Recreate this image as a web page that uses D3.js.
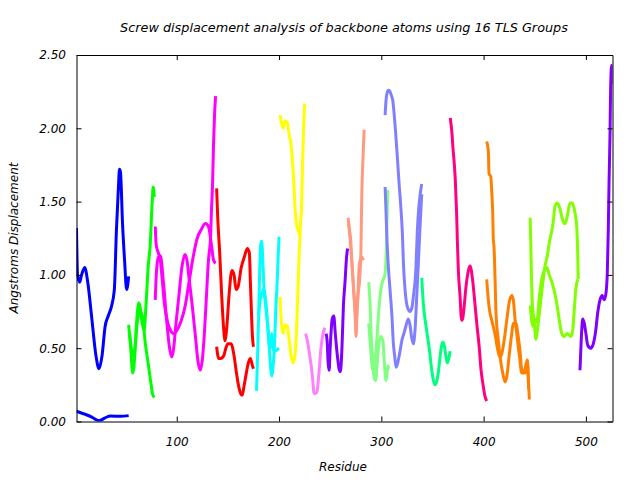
<!DOCTYPE html>
<html><head><meta charset="utf-8">
<script src="https://cdn.jsdelivr.net/npm/d3@7"></script>
<style>
body{margin:0;background:#fff}
svg text{font-family:"DejaVu Sans",sans-serif;font-style:italic;font-size:12px;fill:#000}
</style>
</head><body>
<svg id="chart" width="640" height="480"></svg>
<script>
// ---- data: screw displacement (Angstroms) per residue, 16 TLS groups ----
const title = "Screw displacement analysis of backbone atoms using 16 TLS Groups";
const xLabel = "Residue";
const yLabel = "Angstroms Displacement";
const xTicks = [100, 200, 300, 400, 500];
const yTicks = [0, 0.5, 1.0, 1.5, 2.0, 2.5];
const xDomain = [2, 526];
const yDomain = [0, 2.5];
const groupColors = ["#0000ff","#00ff00","#ff00ff","#ff0000","#00ffff","#ffff00","#ff80ff","#8000ff",
                     "#ff9980","#80ff80","#8080ff","#00ff80","#ff0080","#ff8000","#80ff00","#8000ff"];

const g01a = [[2,1.32],[3,1.0],[5,0.95],[7,1.0],[10,1.05],[13,0.95],[17,0.7],[21,0.45],[24,0.36],[27,0.45],[30,0.65],[33,0.72],[36,0.78],[39,0.9],[41,1.3],[43,1.6],[44,1.72],[45,1.7],[47,1.35],[49,1.1],[51,0.9],[53,0.99]];
const g01b = [[2,0.07],[10,0.05],[17,0.03],[24,0.005],[30,0.025],[35,0.037],[45,0.035],[53,0.04]];
const g02a = [[53,0.66],[55,0.5],[57,0.33],[59,0.45],[61,0.7],[63,0.81],[65,0.75],[67,0.7],[69,0.55],[72,0.4],[75,0.25],[77,0.17],[78,0.18]];
const g02b = [[54,0.6],[57,0.45],[59,0.5],[61,0.65],[63,0.75],[65,0.72],[68,0.62],[70,0.8],[72,1.05],[74,1.2],[76,1.5],[77,1.6],[78,1.53]];
const g03a = [[79,0.83],[80,1.0],[82,1.12],[84,1.13],[87,0.95],[90,0.7],[93,0.5],[95,0.44],[97,0.5],[99,0.65],[102,0.85],[105,1.05],[108,1.14],[110,1.1],[112,0.98],[115,0.8],[118,0.6],[121,0.4],[123,0.35],[125,0.42],[127,0.6],[129,0.85],[131,1.1],[133,1.25],[134,1.45],[135,1.62],[136,1.9],[137,2.1],[138,2.22]];
const g03b = [[79,1.33],[80,1.2],[82,1.15],[84,1.1],[86,0.95],[88,0.8],[91,0.68],[94,0.62],[97,0.6],[100,0.62],[104,0.68],[108,0.78],[112,0.95],[116,1.12],[120,1.25],[124,1.31],[128,1.35],[131,1.33],[134,1.2],[136,1.1],[138,1.08]];
const g04a = [[139,1.59],[140,1.4],[142,1.15],[144,0.85],[146,0.62],[147,0.55],[149,0.65],[151,0.85],[154,1.03],[156,1.0],[158,0.9],[160,0.92],[163,1.05],[166,1.12],[169,1.18],[171,1.15],[172,0.95],[173,0.75],[174,0.58],[175,0.51]];
const g04b = [[139,0.51],[141,0.43],[143,0.43],[146,0.45],[148,0.5],[150,0.53],[153,0.53],[156,0.45],[158,0.35],[160,0.26],[162,0.2],[164,0.18],[166,0.25],[168,0.33],[170,0.4],[172,0.43],[174,0.38],[175,0.36]];
const g05a = [[178,0.21],[179,0.45],[180,0.7],[181,1.0],[182,1.2],[183,1.23],[184,1.13],[185,0.95],[186,0.85],[188,0.72],[190,0.55],[192,0.35],[193,0.31],[194,0.36],[196,0.6],[197,0.8],[198,0.92],[199,1.1],[200,1.26]];
const g05b = [[180,0.72],[181,0.8],[183,0.87],[185,0.9],[187,0.82],[189,0.65],[191,0.5],[193,0.6],[194,0.5],[196,0.48],[198,0.49],[200,0.5]];
const g06a = [[201,0.85],[202,0.7],[203,0.63],[204,0.6],[206,0.66],[208,0.65],[210,0.55],[212,0.44],[214,0.4],[216,0.48],[217,0.6],[218,0.8],[219,1.0],[220,1.2],[221,1.35],[222,1.46],[223,1.76],[224,2.0],[225,2.17]];
const g06b = [[201,2.09],[203,2.02],[204,2.0],[206,2.05],[208,2.04],[210,1.95],[211.5,1.9],[213.5,1.74],[215,1.55],[216,1.42],[217.5,1.33],[219.5,1.29],[220.6,1.27]];
const g07a = [[226,0.6],[228,0.54],[230,0.45],[232,0.35],[233,0.28],[234,0.2],[235,0.19],[237,0.2],[239,0.33],[241,0.5],[243,0.6],[245,0.64]];
const g08a = [[246,0.6],[247,0.55],[248,0.4],[249,0.35],[250,0.5],[252,0.7],[253.5,0.72],[255,0.6],[257,0.45],[259,0.35],[260,0.34],[261.5,0.5],[263,0.8],[264.5,0.95],[266,1.12],[267,1.18]];
const g09a = [[267.5,1.39],[269,1.3],[270,1.24],[271,1.12],[272.7,0.92],[274.4,0.72],[275.3,0.58],[276.6,0.82],[278.6,0.95],[280,1.15],[281,1.58],[282,1.78],[283.2,1.99]];
const g09b = [[268,1.35],[269.5,1.24],[271,1.1],[272.5,0.95],[274,0.8],[275.5,0.7],[276.7,0.8],[278.6,1.08],[280.9,1.12],[282.5,1.1]];
const g10a = [[287.7,0.95],[289,0.8],[290,0.6],[291.5,0.42],[293,0.3],[294.5,0.28],[296,0.4],[298,0.55],[299.5,0.58],[301.5,0.55],[303,0.4],[304.5,0.28],[305.5,0.32],[306.5,0.38],[307,0.36]];
const g10b = [[287.7,0.67],[289.5,0.5],[291,0.38],[292.5,0.34],[294,0.42],[296,0.6],[298,0.8],[300,0.92],[302,0.97],[303.5,1.0],[305,1.2],[305.8,1.45],[306.3,1.58]];
const g11a = [[303.7,2.09],[304.6,2.19],[306,2.25],[307,2.26],[308.5,2.25],[310,2.22],[311.2,2.19],[312.5,2.1],[314,1.97],[315.7,1.8],[317.4,1.62],[319,1.47],[320.6,1.28],[321.6,1.08],[323.2,0.9],[325.5,0.78],[328,0.75],[330,0.78],[331.3,0.85],[333.7,1.03],[335.2,1.3],[336.5,1.45],[338,1.55],[339.5,1.62]];
const g11b = [[303.7,1.6],[304.5,1.45],[305.3,1.28],[306.5,1.1],[308.5,0.9],[310.2,0.74],[311.8,0.53],[313,0.45],[314.4,0.37],[316,0.4],[318.3,0.48],[320,0.55],[322,0.6],[324,0.65],[326.4,0.7],[328,0.66],[329.5,0.58],[331.3,0.53],[333,0.63],[334.6,0.85],[336.2,1.08],[338,1.35],[339.5,1.55]];
const g12a = [[339.5,0.98],[341,0.81],[343.7,0.65],[347,0.49],[349.3,0.35],[351,0.28],[352.5,0.25],[354,0.27],[356,0.35],[357.4,0.44],[359,0.52],[360,0.54],[361.5,0.52],[363,0.45],[364.5,0.4],[366,0.43],[367.2,0.48]];
const g13a = [[367.4,2.07],[369,1.97],[370,1.87],[371.3,1.76],[372.3,1.65],[373.1,1.51],[373.7,1.4],[374.3,1.24],[375.3,1.03],[377,0.85],[378,0.72],[378.6,0.69],[379.5,0.7],[380.9,0.78],[382.8,0.92],[385.1,1.03],[386.7,1.06],[389,0.98],[390.9,0.85],[393.3,0.67],[395.8,0.5],[397.5,0.35],[399.7,0.24],[401.4,0.17],[403,0.14]];
const g14a = [[403,1.91],[404.6,1.85],[405.3,1.69],[407,1.67],[408,1.56],[408.9,1.42],[409.5,1.24],[410.2,1.19],[411.2,0.97],[412.1,0.74],[414.4,0.55],[416.1,0.44],[418.7,0.33],[421,0.27],[422.5,0.3],[425,0.45],[427.5,0.6],[429,0.67],[431.7,0.67],[433,0.62],[435.6,0.48],[437.3,0.35],[439,0.33],[440.5,0.33],[442.7,0.4],[443.7,0.3],[444.7,0.15]];
const g14b = [[403,0.97],[404.6,0.83],[406,0.75],[408,0.69],[411,0.6],[414.4,0.47],[416,0.44],[417.7,0.46],[420,0.55],[422.6,0.69],[425.2,0.82],[427.5,0.86],[429,0.83],[430.7,0.7],[432.4,0.6],[434,0.5],[435,0.45],[437.3,0.33],[440.5,0.36],[442.7,0.42],[444,0.22]];
const g15a = [[445.5,1.39],[446,1.25],[446.5,1.08],[447.6,0.81],[449.6,0.67],[451.2,0.56],[453,0.65],[455.1,0.78],[457.8,0.94],[460,1.06],[462.3,1.13],[464.2,1.22],[466.6,1.3],[468.2,1.37],[469.8,1.47],[472.1,1.49],[474.7,1.45],[477.4,1.37],[479.6,1.35],[481.8,1.4],[484.5,1.49],[486.7,1.49],[489.4,1.42],[491,1.33],[492,1.15],[492.5,0.97]];
const g15b = [[445.5,0.79],[446.5,0.72],[448,0.65],[450,0.7],[452,0.68],[454.5,0.85],[456.8,0.97],[459.3,1.03],[461.7,1.05],[464.2,1.0],[467.6,0.93],[469.8,0.87],[472.1,0.78],[474,0.69],[476.4,0.6],[478.6,0.58],[481.8,0.6],[485.2,0.58],[487.1,0.62],[488.5,0.75],[490.1,0.9],[492,0.97]];
const g16a = [[494.2,0.35],[494.8,0.45],[495.9,0.62],[496.9,0.7],[498.4,0.67],[500,0.6],[501.8,0.52],[504.7,0.5],[507.2,0.53],[509.6,0.62],[511.5,0.74],[513.8,0.83],[516,0.86],[517.7,0.83],[519.3,0.86],[520.9,1.01],[521.9,1.31],[522.6,1.62],[523.6,1.97],[524.2,2.28],[525.2,2.43],[526,2.3]];

const groupSeries = [
  [g01a, g01b], [g02a, g02b], [g03a, g03b], [g04a, g04b], [g05a, g05b], [g06a, g06b],
  [g07a], [g08a], [g09a, g09b], [g10a, g10b], [g11a, g11b], [g12a], [g13a],
  [g14a, g14b], [g15a, g15b], [g16a]
];

// ---- drawing ----
const svg = d3.select("#chart");
const x = d3.scaleLinear().domain(xDomain).range([76.5, 612.5]);
const y = d3.scaleLinear().domain(yDomain).range([421.5, 55]);

svg.append("defs").append("clipPath").attr("id","plotclip")
  .append("rect").attr("x",x.range()[0]).attr("y",y.range()[1])
  .attr("width",x.range()[1]-x.range()[0]).attr("height",y.range()[0]-y.range()[1]);

const line = d3.line().x(d => x(d[0])).y(d => y(d[1])).curve(d3.curveMonotoneX);
const plot = svg.append("g").attr("clip-path","url(#plotclip)");
groupSeries.forEach((list, gi) => {
  list.forEach(pts => {
    plot.append("path").datum(pts).attr("d", line)
      .attr("fill","none").attr("stroke", groupColors[gi])
      .attr("stroke-width", 3).attr("stroke-linejoin","round");
  });
});

function styleAxis(g){
  g.selectAll("path.domain").attr("stroke","#000").attr("stroke-width",1);
  g.selectAll(".tick line").attr("stroke","#000");
  g.selectAll("text").attr("font-family",null).attr("font-size",null).attr("fill","#000");
}
svg.append("g").attr("transform",`translate(0,${y.range()[0]})`)
  .call(d3.axisBottom(x).tickValues(xTicks).tickSizeInner(-5).tickSizeOuter(0).tickPadding(15.5).tickFormat(d3.format("d")))
  .call(styleAxis);
svg.append("g").attr("transform",`translate(0,${y.range()[1]})`)
  .call(d3.axisTop(x).tickValues(xTicks).tickSizeInner(-5).tickSizeOuter(0).tickFormat(""))
  .call(styleAxis);
svg.append("g").attr("transform",`translate(${x.range()[0]},0)`)
  .call(d3.axisLeft(y).tickValues(yTicks).tickSizeInner(-5).tickSizeOuter(0).tickPadding(10.5).tickFormat(d3.format(".2f")))
  .call(styleAxis);
svg.append("g").attr("transform",`translate(${x.range()[1]},0)`)
  .call(d3.axisRight(y).tickValues(yTicks).tickSizeInner(-5).tickSizeOuter(0).tickFormat(""))
  .call(styleAxis);

svg.append("text").attr("x",344).attr("y",32).attr("text-anchor","middle").style("font-size","12.8px").text(title);
svg.append("text").attr("x",343).attr("y",471).attr("text-anchor","middle").text(xLabel);
svg.append("text").attr("transform","translate(18,238) rotate(-90)").attr("text-anchor","middle").text(yLabel);
</script>
</body></html>
